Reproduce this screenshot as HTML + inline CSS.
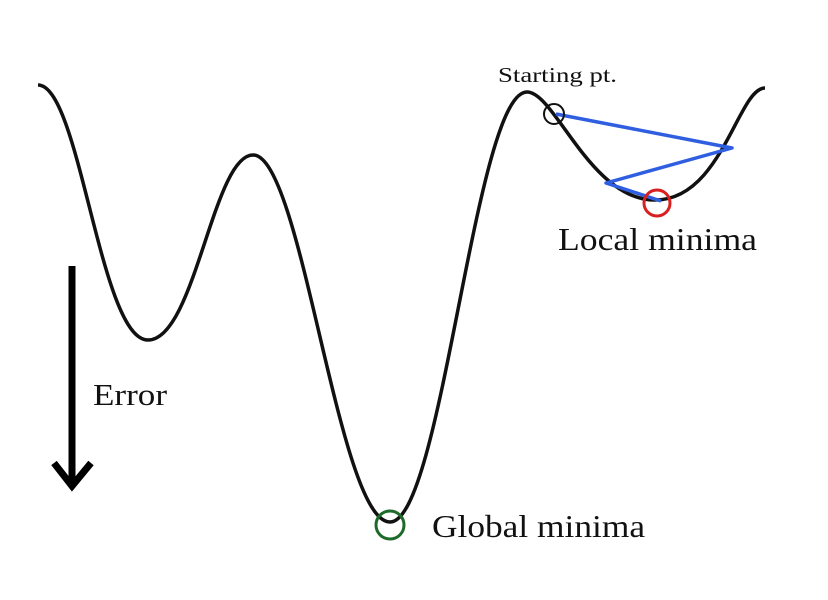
<!DOCTYPE html>
<html><head><style>html,body{margin:0;padding:0;background:#fff}</style></head>
<body>
<svg width="828" height="600" viewBox="0 0 828 600" xmlns="http://www.w3.org/2000/svg" style="display:block">
<rect width="828" height="600" fill="#fff"/>
<path d="M38,85 C80,85 100,340 148,340 C195,340 213,155 253,155 C302,155 338,522 390,522 C442,522 475,92 527,92 C555,92 590,200 655,200 C722,200 738,88 765,88" fill="none" stroke="#111" stroke-width="3.5"/>
<polyline points="556,114 732,148 606,183 661,201" fill="none" stroke="#2f5fe0" stroke-width="3.5" stroke-linejoin="round"/>
<circle cx="554" cy="114" r="10" fill="none" stroke="#111" stroke-width="2"/>
<circle cx="657" cy="203" r="13" fill="none" stroke="#d92020" stroke-width="3"/>
<circle cx="390" cy="525" r="14" fill="none" stroke="#1e6a2a" stroke-width="3"/>
<line x1="72" y1="266" x2="72" y2="486" stroke="#000" stroke-width="7"/>
<polyline points="54,463 72,486 91,463" fill="none" stroke="#000" stroke-width="7"/>
<g font-family="Liberation Serif, serif" fill="#111">
<text x="498" y="82" font-size="21" textLength="119" lengthAdjust="spacingAndGlyphs">Starting pt.</text>
<text x="558" y="250" font-size="32" textLength="199" lengthAdjust="spacingAndGlyphs">Local minima</text>
<text x="93" y="405" font-size="31" textLength="74" lengthAdjust="spacingAndGlyphs">Error</text>
<text x="432" y="537" font-size="32" textLength="213" lengthAdjust="spacingAndGlyphs">Global minima</text>
</g>
</svg>
</body></html>
